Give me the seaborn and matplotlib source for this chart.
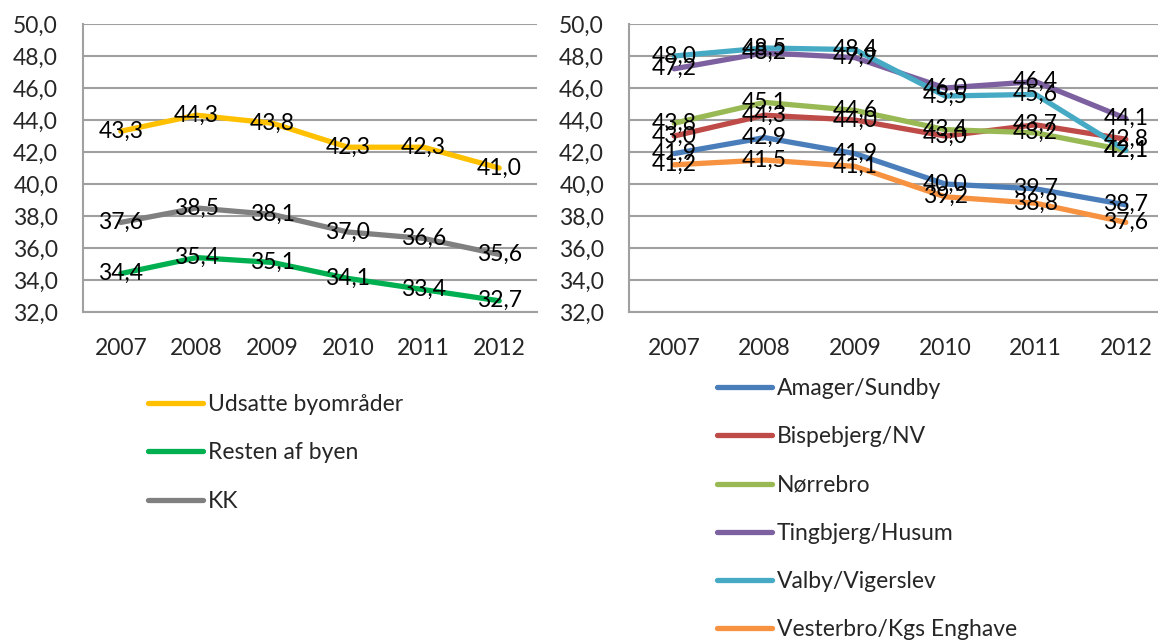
import numpy as np
import pandas as pd
import matplotlib
matplotlib.use("Agg")
import matplotlib.pyplot as plt
from matplotlib.lines import Line2D
from matplotlib.ticker import FuncFormatter, MultipleLocator
import seaborn as sns

# Data
years = [2007, 2008, 2009, 2010, 2011, 2012]

# left panel
udsatte = [43.3, 44.3, 43.8, 42.3, 42.3, 41.0]
resten = [34.4, 35.4, 35.1, 34.1, 33.4, 32.7]
kk = [37.6, 38.5, 38.1, 37.0, 36.6, 35.6]
left_names = ["Udsatte byområder", "Resten af byen", "KK"]
left_colors = ["#FFC000", "#00B050", "#808080"]

# right panel
amager = [41.9, 42.9, 41.9, 40.0, 39.7, 38.7]
bispebjerg = [43.0, 44.3, 44.0, 43.0, 43.7, 42.8]
norrebro = [43.8, 45.1, 44.6, 43.4, 43.2, 42.1]
tingbjerg = [47.2, 48.2, 47.9, 46.0, 46.4, 44.1]
valby = [48.0, 48.5, 48.4, 45.5, 45.6, 42.1]
vesterbro = [41.2, 41.5, 41.1, 39.2, 38.8, 37.6]
right_names = ["Amager/Sundby", "Bispebjerg/NV", "Nørrebro",
               "Tingbjerg/Husum", "Valby/Vigerslev", "Vesterbro/Kgs Enghave"]
right_colors = ["#4A7EBB", "#BE4B48", "#98B954", "#7D60A0", "#46AAC5", "#F69240"]

sns.set_theme(style="white")
plt.rcParams["font.family"] = ["Lato", "DejaVu Sans"]
FS = 16.5
LW = 3.8


def long_df(names, series):
    rows = []
    for name, vals in zip(names, series):
        for yr, v in zip(years, vals):
            rows.append({"year": yr, "value": v, "serie": name})
    return pd.DataFrame(rows)


def comma(v, pos=None):
    return f"{v:.1f}".replace(".", ",")


def draw_panel(ax, names, series, colors):
    df = long_df(names, series)
    palette = dict(zip(names, colors))
    sns.lineplot(data=df, x="year", y="value", hue="serie", hue_order=names,
                 palette=palette, linewidth=LW, legend=False, ax=ax,
                 solid_capstyle="round", zorder=3)
    # data labels centred on the points, like the Excel original
    for vals in series:
        for yr, v in zip(years, vals):
            ax.text(yr, v, comma(v), ha="center", va="center",
                    fontsize=FS, color="black", zorder=5)
    ax.set_xlim(2006.5, 2012.5)
    ax.set_ylim(32, 50)
    ax.yaxis.set_major_locator(MultipleLocator(2))
    ax.yaxis.set_major_formatter(FuncFormatter(comma))
    ax.set_xticks(years)
    ax.set_xticklabels([str(y) for y in years])
    ax.grid(axis="y", color="#A0A0A0", linewidth=1.5, zorder=0)
    ax.set_axisbelow(True)
    for side in ["top", "right"]:
        ax.spines[side].set_visible(False)
    for side in ["left", "bottom"]:
        ax.spines[side].set_color("#A0A0A0")
        ax.spines[side].set_linewidth(1.5)
    ax.tick_params(axis="y", length=0, pad=18, labelsize=FS)
    ax.tick_params(axis="x", length=0, pad=19, labelsize=FS)
    ax.set_xlabel("")
    ax.set_ylabel("")


fig = plt.figure(figsize=(11.58, 6.4), dpi=100)
ax1 = fig.add_axes([83 / 1158, 0.5125, 454 / 1158, 0.45])
ax2 = fig.add_axes([629 / 1158, 0.5125, 542 / 1158, 0.45])

draw_panel(ax1, left_names, [udsatte, resten, kk], left_colors)
draw_panel(ax2, right_names, [amager, bispebjerg, norrebro, tingbjerg, valby, vesterbro],
           right_colors)


def add_legend(names, colors, x, y):
    handles = [Line2D([0], [0], color=c, linewidth=LW, solid_capstyle="round")
               for c in colors]
    fig.legend(handles, names, loc="upper left", bbox_to_anchor=(x, y),
               bbox_transform=fig.transFigure, frameon=False, fontsize=FS,
               handlelength=2.4, handletextpad=0.22, labelspacing=1.19,
               borderpad=0, borderaxespad=0)


add_legend(left_names, left_colors, 148 / 1158, (640 - 394) / 640)
add_legend(right_names, right_colors, 717 / 1158, (640 - 378) / 640)

fig.savefig("out.png", dpi=100)
